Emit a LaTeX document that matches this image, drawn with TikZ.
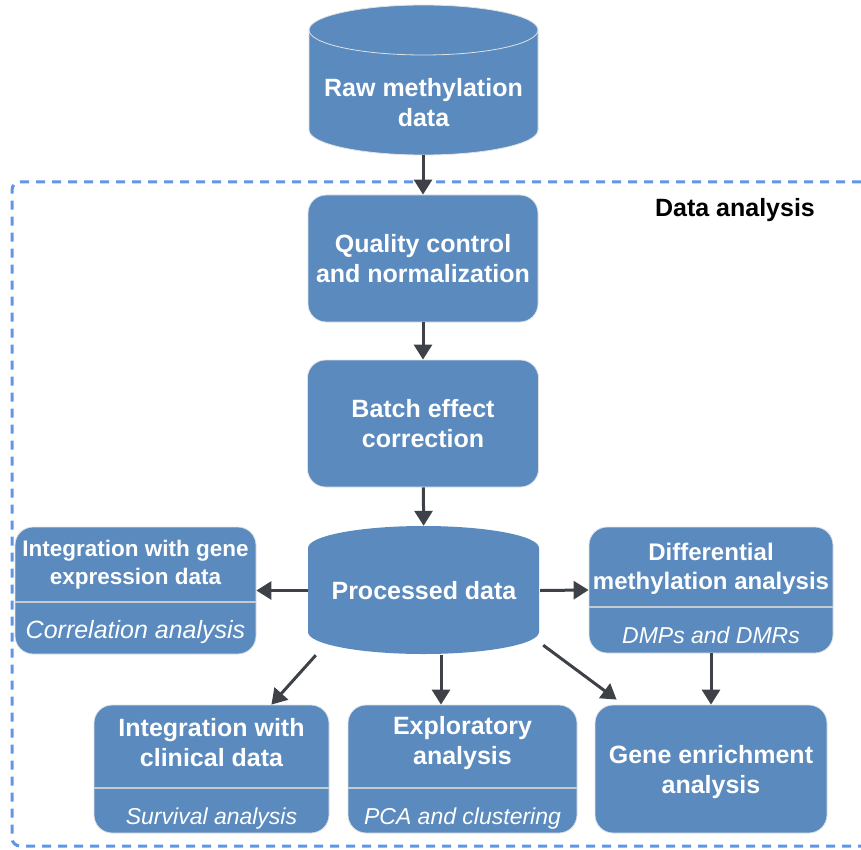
\documentclass[tikz,border=0pt]{standalone}
\usepackage{fontspec}
\setmainfont{Liberation Sans}
\usetikzlibrary{arrows.meta}

\definecolor{boxblue}{RGB}{90,138,190}
\definecolor{rimgray}{RGB}{222,226,232}
\definecolor{splitgray}{RGB}{196,202,210}
\definecolor{arrowgray}{RGB}{62,66,72}
\definecolor{frameblue}{RGB}{95,150,232}

\tikzset{
  stage/.style={draw=rimgray, line width=0.8pt, fill=boxblue, rounded corners=18pt, inner sep=0pt},
  drum/.style={draw=rimgray, line width=0.8pt, fill=boxblue},
  title/.style={text=white, font=\bfseries\fontsize{25}{30}\selectfont, align=center, inner sep=0pt},
  smalltitle/.style={title, font=\bfseries\fontsize{22.5}{28}\selectfont},
  midtitle/.style={title, font=\bfseries\fontsize{24}{29}\selectfont},
  note/.style={text=white, font=\itshape\fontsize{23}{27}\selectfont, inner sep=0pt},
  divider/.style={draw=splitgray, line width=1.6pt},
  flow/.style={draw=arrowgray, line width=3pt, -{Triangle[length=15pt,width=18pt]}},
  frame/.style={draw=frameblue, line width=3pt, dash pattern=on 9pt off 7pt, rounded corners=8pt},
}

\begin{document}
\begin{tikzpicture}[x=1pt,y=-1pt]
  \useasboundingbox (0,0) rectangle (861,850);

  % dashed frame of the analysis part, open on the right
  \draw[frame] (861,182) -- (12,182) -- (12,846) -- (861,846);
  \node[font=\bfseries\fontsize{25}{30}\selectfont, inner sep=0pt] (dataAnalysis) at (735,210) {Data analysis};

  % raw data drum
  \path[drum] (309,30) -- (309,130)
      arc[start angle=180, end angle=360, x radius=114.5pt, y radius=25pt]
      -- (538,30)
      arc[start angle=0, end angle=180, x radius=114.5pt, y radius=25pt] -- cycle;
  \draw[draw=rimgray, line width=0.8pt] (309,30)
      arc[start angle=180, end angle=360, x radius=114.5pt, y radius=25pt];
  \node[title] (raw) at (423.5,103) {Raw methylation\\data};
  \coordinate (rawBase) at (423,155);

  % pipeline stages
  \node[stage, minimum width=230pt, minimum height=127pt] (qc) at (423,258.5) {};
  \node[title] (qcText) at (423,258.5) {Quality control\\and normalization};

  \node[stage, minimum width=231pt, minimum height=127pt] (batch) at (423,423.5) {};
  \node[title] (batchText) at (423,423.5) {Batch effect\\correction};

  % processed data drum
  \path[drum, draw=none] (308,548)
      arc[start angle=180, end angle=0, x radius=115.5pt, y radius=22pt]
      -- (539,632)
      arc[start angle=0, end angle=-180, x radius=115.5pt, y radius=22pt] -- cycle;
  \node[title, minimum width=232pt, minimum height=129pt] (proc) at (424,590.5) {Processed data};

  % side analyses
  \node[stage, minimum width=241pt, minimum height=127pt] (expr) at (135.5,590.5) {};
  \draw[divider] ([yshift=-11.5pt]expr.west) -- ([yshift=-11.5pt]expr.east);
  \node[smalltitle] (exprText) at (135.5,565) {Integration with gene\\expression data};
  \node[note, font=\itshape\fontsize{25}{29}\selectfont] (exprNote) at (135.5,632.5) {Correlation analysis};

  \node[stage, minimum width=244pt, minimum height=126pt] (diff) at (711,590) {};
  \draw[divider] ([yshift=-17pt]diff.west) -- ([yshift=-17pt]diff.east);
  \node[midtitle] (diffText) at (711,568.5) {Differential\\methylation analysis};
  \node[note] (diffNote) at (711,635) {DMPs and DMRs};

  \node[stage, minimum width=235pt, minimum height=128pt] (clin) at (211.5,769) {};
  \draw[divider] ([yshift=-19pt]clin.west) -- ([yshift=-19pt]clin.east);
  \node[title] (clinText) at (211.5,743) {Integration with\\clinical data};
  \node[note] (clinNote) at (211.5,818.5) {Survival analysis};

  \node[stage, minimum width=229pt, minimum height=128pt] (expl) at (462.5,769) {};
  \draw[divider] ([yshift=-19pt]expl.west) -- ([yshift=-19pt]expl.east);
  \node[title] (explText) at (462.5,743) {Exploratory\\analysis};
  \node[note] (explNote) at (462.5,818.5) {PCA and clustering};

  \node[stage, minimum width=232pt, minimum height=128pt] (gene) at (711,769) {};
  \node[title] (geneText) at (711,772) {Gene enrichment\\analysis};

  % connectors
  \draw[flow] (rawBase) -- (qc);
  \draw[flow] (qc) -- (batch);
  \draw[flow] (batch) -- (proc);
  \draw[flow] (proc.west) -- (expr.east);
  \draw[flow] (proc.east) -- (diff.west);
  \draw[flow] ([xshift=8pt]proc.south west) -- ([xshift=-58pt]clin.north east);
  \draw[flow] ([xshift=17pt]proc.south) -- ([xshift=17pt]proc.south |- expl.north);
  \draw[flow] ([shift={(3pt,10pt)}]proc.south east) -- ([shift={(22pt,5pt)}]gene.north west);
  \draw[flow] (diff.south) -- (gene.north);
\end{tikzpicture}
\end{document}
